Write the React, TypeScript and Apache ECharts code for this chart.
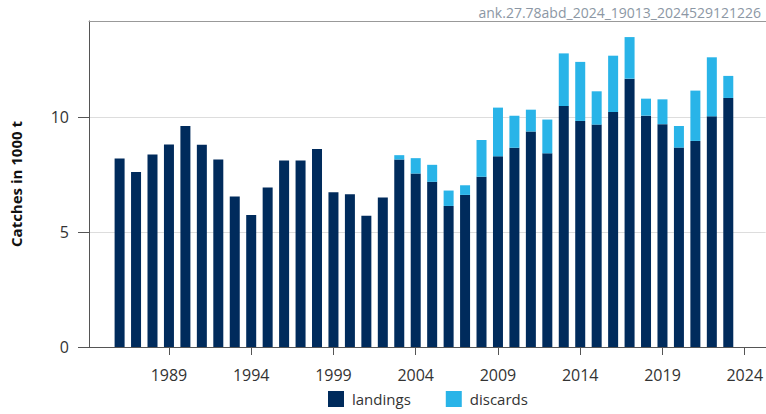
import React, { useEffect, useRef } from "react";
import * as echarts from "echarts";

const years = [
  1986, 1987, 1988, 1989, 1990, 1991, 1992, 1993, 1994, 1995, 1996, 1997, 1998,
  1999, 2000, 2001, 2002, 2003, 2004, 2005, 2006, 2007, 2008, 2009, 2010, 2011,
  2012, 2013, 2014, 2015, 2016, 2017, 2018, 2019, 2020, 2021, 2022, 2023,
];
const landings = [
  8.2, 7.62, 8.38, 8.81, 9.62, 8.8, 8.16, 6.55, 5.75, 6.94, 8.12, 8.12, 8.62,
  6.74, 6.65, 5.71, 6.51, 8.16, 7.55, 7.19, 6.14, 6.62, 7.41, 8.3, 8.67, 9.38,
  8.43, 10.49, 9.84, 9.68, 10.23, 11.68, 10.07, 9.7, 8.68, 8.97, 10.04, 10.84,
];
const discardYears = [
  2003, 2004, 2005, 2006, 2007, 2008, 2009, 2010, 2011, 2012, 2013, 2014, 2015,
  2016, 2017, 2018, 2019, 2020, 2021, 2022, 2023,
];
const discards = [
  0.19, 0.67, 0.74, 0.67, 0.42, 1.6, 2.12, 1.4, 0.95, 1.47, 2.29, 2.57, 1.45,
  2.45, 1.81, 0.74, 1.08, 0.94, 2.19, 2.57, 0.96,
];
const xTicks = [1989, 1994, 1999, 2004, 2009, 2014, 2019, 2024];
const yTicks = [0, 5, 10];
const stamp = "ank.27.78abd_2024_19013_2024529121226";

const FONT = "'Open Sans', 'DejaVu Sans', sans-serif";

export default function App() {
  const ref = useRef<HTMLDivElement>(null);
  useEffect(() => {
    document.body.style.margin = "0";
    const chart = echarts.init(ref.current!, null, { renderer: "svg" });
    // value first so it is the stacked dimension; year second (x)
    const landingData = years.map((y, i) => [landings[i], y]);
    const discardData = years.map((y) => {
      const k = discardYears.indexOf(y);
      return [k >= 0 ? discards[k] : 0, y];
    });
    chart.setOption({
      animation: false,
      textStyle: { fontFamily: FONT },
      title: {
        text: stamp,
        right: 0,
        top: 0,
        textStyle: { fontSize: 14, fontWeight: "normal", color: "#8c97a4", fontFamily: FONT },
      },
      legend: {
        bottom: 2,
        left: 323,
        itemWidth: 16,
        itemHeight: 16,
        itemGap: 35,
        icon: "rect",
        textStyle: { fontSize: 15, color: "#333", fontFamily: FONT, padding: [0, 0, 0, 3] },
        data: ["landings", "discards"],
      },
      grid: { left: 88, right: 0, top: 21, bottom: 67, containLabel: false },
      xAxis: [
        {
          type: "value",
          min: 1984.14,
          max: 2025.27,
          splitLine: { show: false },
          axisLine: { show: true, lineStyle: { color: "#555", width: 1 } },
          axisTick: {
            show: true,
            customValues: xTicks,
            length: 8,
            lineStyle: { color: "#555" },
          },
          axisLabel: {
            customValues: xTicks,
            fontSize: 16,
            color: "#333",
            margin: 20,
            fontFamily: FONT,
            formatter: (v: number) => String(v),
          },
        },
        {
          type: "value",
          position: "top",
          min: 1984.14,
          max: 2025.27,
          splitLine: { show: false },
          axisLine: { show: true, lineStyle: { color: "#999", width: 1 } },
          axisTick: { show: false },
          axisLabel: { show: false },
        },
      ],
      yAxis: {
        type: "value",
        min: 0,
        max: 14.19,
        name: "Catches in 1000 t",
        nameLocation: "middle",
        nameGap: 66,
        nameTextStyle: { fontSize: 15, fontWeight: "bold", color: "#111", fontFamily: FONT },
        axisLine: { show: true, lineStyle: { color: "#555", width: 1 } },
        axisTick: { show: true, customValues: yTicks, length: 11, lineStyle: { color: "#555" } },
        axisLabel: {
          customValues: yTicks,
          fontSize: 16,
          color: "#333",
          margin: 20,
          fontFamily: FONT,
        },
        splitLine: { show: true, lineStyle: { color: "#dddddd", width: 1 } },
      },
      series: [
        {
          name: "landings",
          type: "bar",
          stack: "c",
          barWidth: 10,
          dimensions: ["catch", "year"],
          encode: { x: 1, y: 0 },
          itemStyle: { color: "#002b5c" },
          data: landingData,
        },
        {
          name: "discards",
          type: "bar",
          stack: "c",
          barWidth: 10,
          dimensions: ["catch", "year"],
          encode: { x: 1, y: 0 },
          itemStyle: { color: "#29b4e8" },
          data: discardData,
        },
      ],
    });
    return () => chart.dispose();
  }, []);
  return <div ref={ref} style={{ width: 766, height: 414 }} />;
}
